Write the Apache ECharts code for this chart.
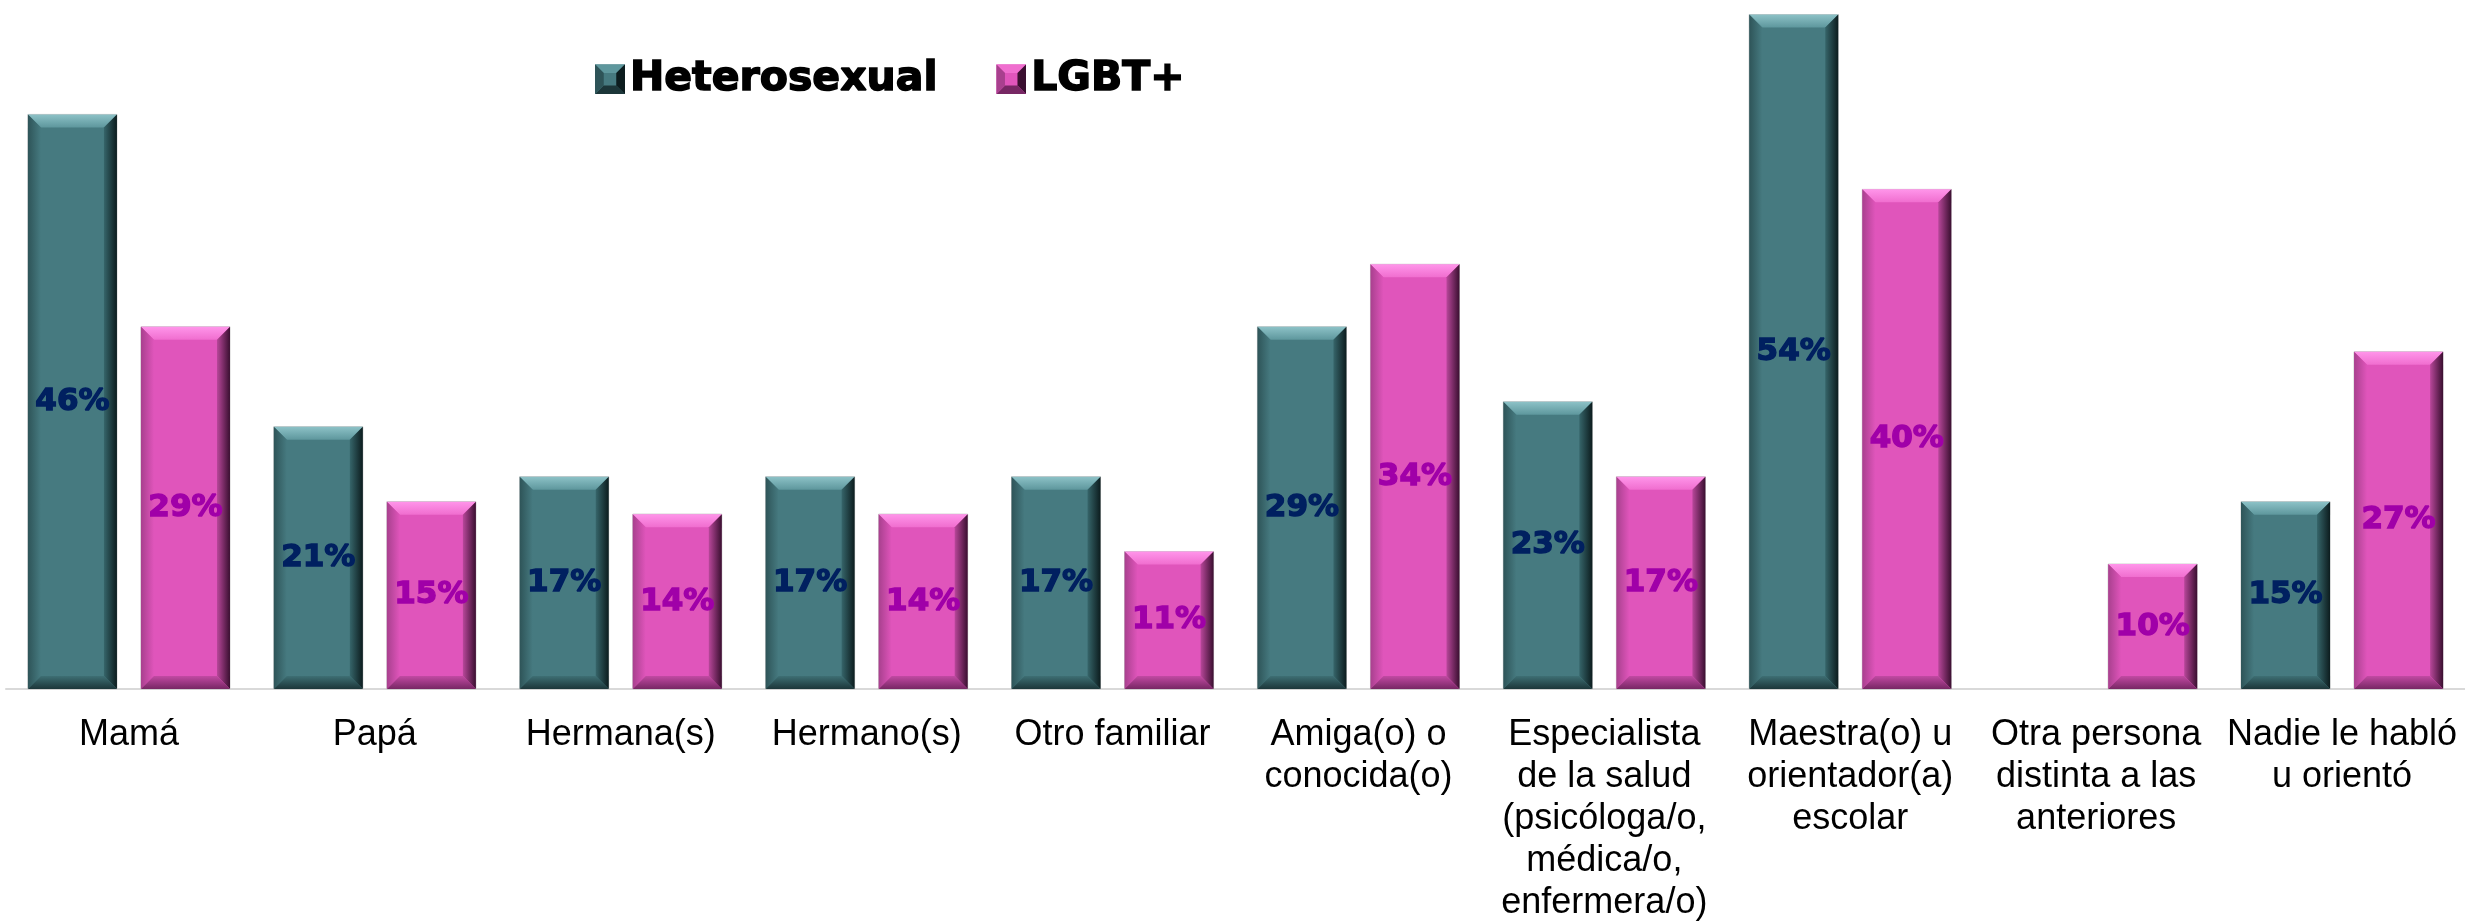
<!DOCTYPE html>
<html>
<head>
<meta charset="utf-8">
<title>Orientación</title>
<script src="https://cdn.jsdelivr.net/npm/echarts@6/dist/echarts.min.js"></script>
<style>
  html, body { margin: 0; padding: 0; background: #fff; }
  #chart { width: 2465px; height: 923px; }
</style>
</head>
<body>
<div id="chart"></div>
<script>
// datos
const categories = [
  'Mamá',
  'Papá',
  'Hermana(s)',
  'Hermano(s)',
  'Otro familiar',
  'Amiga(o) o\nconocida(o)',
  'Especialista\nde la salud\n(psicóloga/o,\nmédica/o,\nenfermera/o)',
  'Maestra(o) u\norientador(a)\nescolar',
  'Otra persona\ndistinta a las\nanteriores',
  'Nadie le habló\nu orientó'
]
const seriesNames = ['Heterosexual', 'LGBT+']
const heteroValues = [46, 21, 17, 17, 17, 29, 23, 54, null, 15]
const lgbtValues = [29, 15, 14, 14, 11, 34, 17, 40, 10, 27]

// colores del bisel
const palettes = [
  {
    main: '#467A80', topLight: '#8DC2C7', top: '#5E979D',
    rightIn: '#36656A', rightOut: '#0C1C1E',
    bottomIn: '#3E6F74', bottomOut: '#1C3639',
    leftOut: '#2E5458', label: '#002060'
  },
  {
    main: '#E055BB', topLight: '#FF95EA', top: '#F06ECF',
    rightIn: '#B8479A', rightOut: '#3A0F30',
    bottomIn: '#C24AA3', bottomOut: '#772764',
    leftOut: '#A8408E', label: '#A000A8'
  }
]

const legendIcon = (p) => {
  const svg = `<svg xmlns='http://www.w3.org/2000/svg' width='24' height='24'>` +
    `<rect width='24' height='24' fill='${p.main}'/>` +
    `<polygon points='0,0 24,0 17,7 7,7' fill='${p.top}'/>` +
    `<polygon points='24,0 24,24 17,17 17,7' fill='${p.rightOut}'/>` +
    `<polygon points='0,24 24,24 17,17 7,17' fill='${p.bottomOut}'/>` +
    `<polygon points='0,0 0,24 7,17 7,7' fill='${p.leftOut}'/>` +
    `</svg>`
  return 'image://data:image/svg+xml;utf8,' + encodeURIComponent(svg)
}

const lg = (x1, y1, x2, y2, c1, c2) =>
  new echarts.graphic.LinearGradient(x1, y1, x2, y2, [
    { offset: 0, color: c1 },
    { offset: 1, color: c2 }
  ], true)

// barra con bisel
const makeRenderItem = (sIdx) => (params, api) => {
  const idx = api.value(0)
  const val = api.value(1)
  if (val == null || isNaN(val)) return
  const p = palettes[sIdx]
  const base = api.coord([idx, 0])
  const end = api.coord([idx, val])
  const catW = api.size([1, 0])[0]
  const w = catW * 0.362
  const gap = w * 0.27
  const cx = base[0] + (sIdx === 0 ? -1 : 1) * (w + gap) / 2
  const x = cx - w / 2
  const y = end[1]
  const h = base[1] - end[1]
  const b = Math.min(13, h / 2, w / 2)

  return {
    type: 'group',
    children: [
      {
        type: 'rect',
        shape: { x, y, width: w, height: h },
        style: { fill: p.main, stroke: '#C9C9C9', lineWidth: 1 }
      },
      {
        type: 'polygon',
        shape: { points: [[x, y], [x + w, y], [x + w - b, y + b], [x + b, y + b]] },
        style: { fill: lg(0, y, 0, y + b, p.topLight, p.top) }
      },
      {
        type: 'polygon',
        shape: { points: [[x, y], [x + b, y + b], [x + b, y + h - b], [x, y + h]] },
        style: { fill: lg(x, 0, x + b, 0, p.leftOut, p.main) }
      },
      {
        type: 'polygon',
        shape: { points: [[x + w, y], [x + w, y + h], [x + w - b, y + h - b], [x + w - b, y + b]] },
        style: { fill: lg(x + w - b, 0, x + w, 0, p.rightIn, p.rightOut) }
      },
      {
        type: 'polygon',
        shape: { points: [[x, y + h], [x + b, y + h - b], [x + w - b, y + h - b], [x + w, y + h]] },
        style: { fill: lg(0, y + h - b, 0, y + h, p.bottomIn, p.bottomOut) }
      },
      {
        type: 'text',
        style: {
          text: val + '%',
          x: cx,
          y: y + h / 2,
          align: 'center',
          verticalAlign: 'middle',
          fill: p.label,
          stroke: p.label,
          lineWidth: 1.4,
          fontFamily: 'DejaVu Sans',
          fontWeight: 'bold',
          fontSize: 31
        }
      }
    ]
  }
}

const chart = echarts.init(document.getElementById('chart'), null, { renderer: 'canvas' })

chart.setOption({
  animation: false,
  backgroundColor: '#ffffff',
  grid: {
    left: 6,
    right: 0,
    top: 2,
    bottom: 234,
    containLabel: false,
    outerBoundsMode: 'none'
  },
  legend: {
    left: 590,
    top: 53,
    itemWidth: 30,
    itemHeight: 30,
    itemGap: 58,
    data: [
      { name: seriesNames[0], icon: legendIcon(palettes[0]) },
      { name: seriesNames[1], icon: legendIcon(palettes[1]) }
    ],
    textStyle: {
      fontFamily: 'DejaVu Sans',
      fontWeight: 'bold',
      fontSize: 41,
      color: '#000',
      textBorderColor: '#000',
      textBorderWidth: 1.5
    }
  },
  xAxis: {
    type: 'category',
    data: categories,
    axisTick: { show: false },
    axisLine: { lineStyle: { color: '#D9D9D9', width: 2 } },
    axisLabel: {
      interval: 0,
      margin: 25,
      fontFamily: 'Liberation Sans',
      fontSize: 36,
      lineHeight: 42,
      color: '#000'
    }
  },
  yAxis: {
    type: 'value',
    min: 0,
    max: 55,
    show: false
  },
  series: [
    {
      name: seriesNames[0],
      type: 'custom',
      itemStyle: { color: palettes[0].main },
      encode: { x: 0, y: 1 },
      renderItem: makeRenderItem(0),
      data: heteroValues.map((v, i) => [i, v])
    },
    {
      name: seriesNames[1],
      type: 'custom',
      itemStyle: { color: palettes[1].main },
      encode: { x: 0, y: 1 },
      renderItem: makeRenderItem(1),
      data: lgbtValues.map((v, i) => [i, v])
    }
  ]
})

window.addEventListener('resize', () => chart.resize())
</script>
</body>
</html>
